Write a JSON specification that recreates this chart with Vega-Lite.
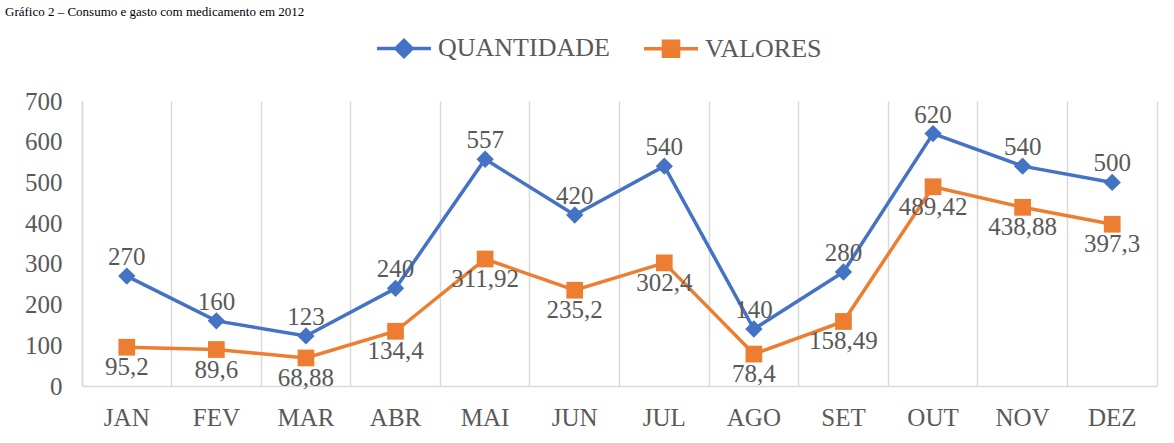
{
  "$schema": "https://vega.github.io/schema/vega-lite/v6.json",
  "width": 1075,
  "height": 285,
  "autosize": {"type": "none"},
  "padding": {"left": 82, "top": 101, "right": 17, "bottom": 57},
  "background": "white",
  "title": {
    "text": "Gráfico 2 – Consumo e gasto com medicamento em 2012",
    "anchor": "start",
    "frame": "group",
    "offset": 0,
    "dx": -77,
    "dy": 10,
    "baseline": "alphabetic",
    "font": "Liberation Serif",
    "fontSize": 13,
    "fontWeight": "normal",
    "color": "#000000"
  },
  "config": {
    "view": {"stroke": null},
    "locale": {
      "number": {"decimal": ",", "thousands": ".", "grouping": [3], "currency": ["R$", ""]}
    },
    "axis": {
      "labelFont": "Liberation Serif",
      "labelColor": "#595959",
      "titleFont": "Liberation Serif"
    }
  },
  "data": {
    "values": [
      {"mes": "JAN", "serie": "QUANTIDADE", "valor": 270},
      {"mes": "FEV", "serie": "QUANTIDADE", "valor": 160},
      {"mes": "MAR", "serie": "QUANTIDADE", "valor": 123},
      {"mes": "ABR", "serie": "QUANTIDADE", "valor": 240},
      {"mes": "MAI", "serie": "QUANTIDADE", "valor": 557},
      {"mes": "JUN", "serie": "QUANTIDADE", "valor": 420},
      {"mes": "JUL", "serie": "QUANTIDADE", "valor": 540},
      {"mes": "AGO", "serie": "QUANTIDADE", "valor": 140},
      {"mes": "SET", "serie": "QUANTIDADE", "valor": 280},
      {"mes": "OUT", "serie": "QUANTIDADE", "valor": 620},
      {"mes": "NOV", "serie": "QUANTIDADE", "valor": 540},
      {"mes": "DEZ", "serie": "QUANTIDADE", "valor": 500},
      {"mes": "JAN", "serie": "VALORES", "valor": 95.2},
      {"mes": "FEV", "serie": "VALORES", "valor": 89.6},
      {"mes": "MAR", "serie": "VALORES", "valor": 68.88},
      {"mes": "ABR", "serie": "VALORES", "valor": 134.4},
      {"mes": "MAI", "serie": "VALORES", "valor": 311.92},
      {"mes": "JUN", "serie": "VALORES", "valor": 235.2},
      {"mes": "JUL", "serie": "VALORES", "valor": 302.4},
      {"mes": "AGO", "serie": "VALORES", "valor": 78.4},
      {"mes": "SET", "serie": "VALORES", "valor": 158.49},
      {"mes": "OUT", "serie": "VALORES", "valor": 489.42},
      {"mes": "NOV", "serie": "VALORES", "valor": 438.88},
      {"mes": "DEZ", "serie": "VALORES", "valor": 397.3}
    ]
  },
  "layer": [
    {
      "mark": {"type": "line", "strokeWidth": 3.5},
      "encoding": {
        "x": {
          "field": "mes", "type": "ordinal",
          "sort": ["JAN","FEV","MAR","ABR","MAI","JUN","JUL","AGO","SET","OUT","NOV","DEZ"],
          "scale": {"type": "band", "paddingInner": 0, "paddingOuter": 0},
          "axis": {
            "title": null, "labelAngle": 0, "labelFontSize": 25, "labelPadding": 19,
            "ticks": false, "grid": false, "domainColor": "#d9d9d9", "domainWidth": 1.5
          }
        },
        "y": {
          "field": "valor", "type": "quantitative",
          "scale": {"domain": [0, 700], "nice": false},
          "axis": {
            "title": null, "values": [0,100,200,300,400,500,600,700],
            "labelFontSize": 25, "labelPadding": 20, "ticks": false, "grid": false,
            "domainColor": "#d9d9d9", "domainWidth": 1.5
          }
        },
        "color": {
          "field": "serie", "type": "nominal",
          "scale": {"domain": ["QUANTIDADE", "VALORES"], "range": ["#4472C4", "#ED7D31"]},
          "legend": {
            "title": null, "orient": "none", "direction": "horizontal",
            "legendX": 293, "legendY": -82,
            "symbolSize": 2916, "symbolStrokeWidth": 3.5,
            "symbolType": {"expr": "datum.value === 'QUANTIDADE' ? 'M-1,0H1M-0.3,0L0,-0.3L0.3,0L0,0.3Z' : 'M-1,0H1M-0.28,-0.28H0.28V0.28H-0.28Z'"},
            "symbolFillColor": {"expr": "datum.value === 'QUANTIDADE' ? '#4472C4' : '#ED7D31'"},
            "labelFont": "Liberation Serif", "labelFontSize": 26, "labelColor": "#595959",
            "labelLimit": 0, "labelOffset": 5, "columnPadding": 27
          }
        }
      }
    },
    {
      "transform": [{"filter": "datum.serie === 'QUANTIDADE'"}],
      "mark": {"type": "point", "filled": true, "opacity": 1, "shape": "diamond", "size": 300, "color": "#4472C4"},
      "encoding": {
        "x": {
          "field": "mes", "type": "ordinal",
          "sort": ["JAN","FEV","MAR","ABR","MAI","JUN","JUL","AGO","SET","OUT","NOV","DEZ"],
          "axis": {
            "orient": "top", "title": null, "labels": false, "ticks": false, "domain": false,
            "grid": true, "bandPosition": 0, "gridColor": "#d9d9d9", "gridWidth": 1.5
          }
        },
        "y": {
          "field": "valor", "type": "quantitative",
          "axis": {
            "orient": "right", "title": null, "labels": false, "ticks": false, "grid": false,
            "domainColor": "#d9d9d9", "domainWidth": 1.5
          }
        }
      }
    },
    {
      "transform": [{"filter": "datum.serie === 'VALORES'"}],
      "mark": {"type": "point", "filled": true, "opacity": 1, "shape": "square", "size": 280, "color": "#ED7D31"},
      "encoding": {
        "x": {"field": "mes", "type": "ordinal", "sort": ["JAN","FEV","MAR","ABR","MAI","JUN","JUL","AGO","SET","OUT","NOV","DEZ"], "axis": null},
        "y": {"field": "valor", "type": "quantitative", "axis": null}
      }
    },
    {
      "transform": [{"filter": "datum.serie === 'QUANTIDADE'"}],
      "mark": {"type": "text", "dy": -11, "baseline": "alphabetic", "font": "Liberation Serif", "fontSize": 25, "color": "#595959"},
      "encoding": {
        "x": {"field": "mes", "type": "ordinal", "sort": ["JAN","FEV","MAR","ABR","MAI","JUN","JUL","AGO","SET","OUT","NOV","DEZ"], "axis": null},
        "y": {"field": "valor", "type": "quantitative", "axis": null},
        "text": {"field": "valor", "type": "quantitative", "format": ".2~f"}
      }
    },
    {
      "transform": [{"filter": "datum.serie === 'VALORES'"}],
      "mark": {"type": "text", "dy": 28, "baseline": "alphabetic", "font": "Liberation Serif", "fontSize": 25, "color": "#595959"},
      "encoding": {
        "x": {"field": "mes", "type": "ordinal", "sort": ["JAN","FEV","MAR","ABR","MAI","JUN","JUL","AGO","SET","OUT","NOV","DEZ"], "axis": null},
        "y": {"field": "valor", "type": "quantitative", "axis": null},
        "text": {"field": "valor", "type": "quantitative", "format": ".2~f"}
      }
    }
  ],
  "resolve": {"axis": {"x": "independent", "y": "independent"}}
}
